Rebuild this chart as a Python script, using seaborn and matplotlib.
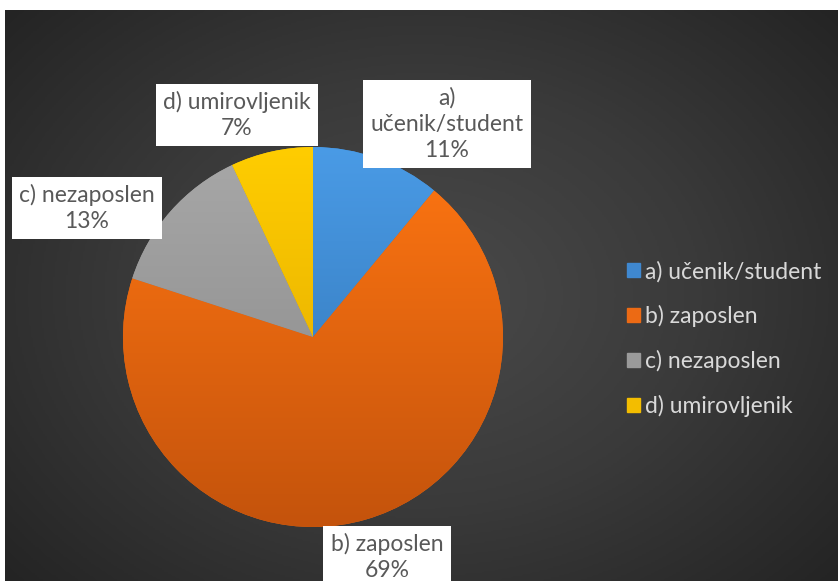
import numpy as np
import matplotlib
matplotlib.use('Agg')
import matplotlib.pyplot as plt
import matplotlib.patches as mpatches
import seaborn as sns

# data
categories = ['a) učenik/student', 'b) zaposlen', 'c) nezaposlen', 'd) umirovljenik']
box_labels = ['a)\nučenik/student\n11%', 'b) zaposlen\n69%', 'c) nezaposlen\n13%', 'd) umirovljenik\n7%']
shares = [11, 69, 13, 7]

# colours: top (light) and bottom (dark) of the vertical gradient
light_colors = ['#4a9be6', '#ff7612', '#a8a8a8', '#ffcd00']
dark_colors = ['#2e6fae', '#c4530c', '#858585', '#dca400']
legend_colors = ['#3f88d0', '#ec6a14', '#9a9a9a', '#f3bd00']

sns.set_theme(style='dark')
plt.rcParams['font.family'] = ['Lato', 'DejaVu Sans']

W, H = 838, 581
fig = plt.figure(figsize=(W / 100, H / 100), dpi=100)
fig.patch.set_facecolor('white')

# dark radial background
bg = fig.add_axes([5 / W, 0, (W - 5) / W, (H - 10) / H])
yy, xx = np.mgrid[-1:1:300j, -1:1:440j]
rad = np.sqrt((xx * 1.0) ** 2 + (yy * 0.9) ** 2) / np.sqrt(1.81)
bg_cmap = sns.blend_palette(['#4a4a4a', '#3a3a3a', '#242424'], n_colors=256, as_cmap=True)
bg.imshow(rad, cmap=bg_cmap, aspect='auto', extent=(0, 1, 0, 1), vmin=0, vmax=1)
bg.set_axis_off()

# pie
cx, cy, r = 313, 337, 190
ax = fig.add_axes([(cx - r) / W, (H - cy - r) / H, 2 * r / W, 2 * r / H])
ax.patch.set_alpha(0)
wedges, _ = ax.pie(shares, startangle=90, counterclock=False, radius=1,
                   colors=legend_colors, wedgeprops=dict(linewidth=0))
grad = np.linspace(0, 1, 256).reshape(-1, 1)
for w, lc, dc in zip(wedges, light_colors, dark_colors):
    cmap = sns.blend_palette([lc, dc], n_colors=256, as_cmap=True)
    im = ax.imshow(grad, cmap=cmap, extent=(-1, 1, -1, 1), aspect='auto', zorder=2)
    im.set_clip_path(w)
ax.set_xlim(-1, 1)
ax.set_ylim(-1, 1)
ax.set_axis_off()

# data label boxes
label_pos = [(447, 124), (387, 557), (87, 208), (237, 115)]
for txt, (px, py) in zip(box_labels, label_pos):
    fig.text(px / W, 1 - py / H, txt, ha='center', va='center', fontsize=16.5,
             color='#595959', linespacing=1.28,
             bbox=dict(boxstyle='square,pad=0.32', fc='white', ec='none'))

# legend
handles = [mpatches.Patch(color=c, label=l) for c, l in zip(legend_colors, categories)]
fig.legend(handles=handles, loc='center left', bbox_to_anchor=(627 / W, 1 - 339 / H),
           frameon=False, fontsize=16.5, labelcolor='#d9d9d9', handlelength=0.57,
           handleheight=0.57, handletextpad=0.2, labelspacing=1.0,
           borderpad=0, borderaxespad=0)

fig.savefig('out.png', dpi=100)
